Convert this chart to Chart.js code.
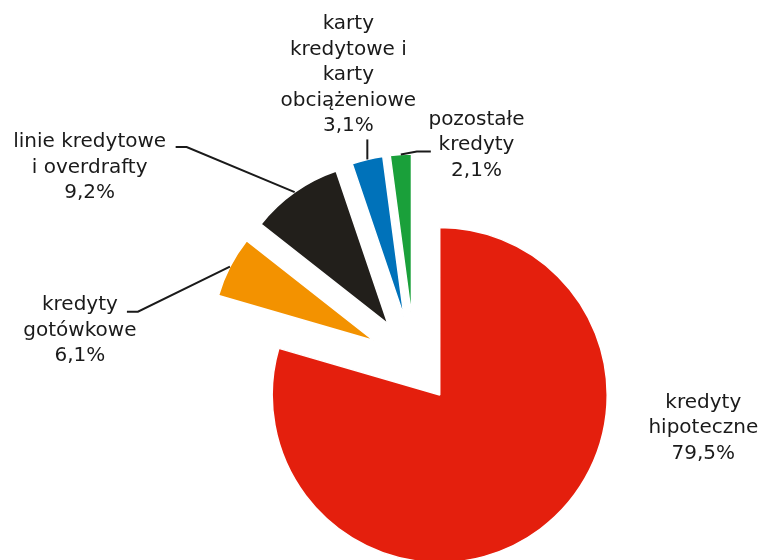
<!DOCTYPE html>
<html lang="pl">
<head>
<meta charset="utf-8">
<title>Struktura kredytów</title>
<script src="https://cdn.jsdelivr.net/npm/chart.js@4/dist/chart.umd.min.js"></script>
<style>
  html, body { margin: 0; padding: 0; background: #ffffff; }
  canvas { display: block; }
</style>
</head>
<body>
<canvas id="chart" width="763" height="560"></canvas>
<script>
// Category names (one entry per text line) and their shares in percent
const categories = [
  ['kredyty', 'hipoteczne'],
  ['kredyty', 'gotówkowe'],
  ['linie kredytowe', 'i overdrafty'],
  ['karty', 'kredytowe i', 'karty', 'obciążeniowe'],
  ['pozostałe', 'kredyty']
];
const shares = [79.5, 6.1, 9.2, 3.1, 2.1];

// Slice styling
const sliceColors = ['#E41F0D', '#F39200', '#221F1B', '#0072BA', '#1AA03A'];
const explodeBy = [42, 46, 46, 46, 46];   // outward shift of each slice, px
const radiusTrim = [0, 6, 6, 6, 6];       // small slices are drawn a bit smaller

// Label layout relative to the slice's outer mid point: text block centre and leader polyline
const labelLayout = [
  { text: [163, -101], leader: [] },
  { text: [-150, 64], leader: [[0, 0], [-92, 45], [-103, 45]] },
  { text: [-205, -24.5], leader: [[0, 0], [-108, -45], [-119, -45]] },
  { text: [-19, -84.3], leader: [[0, 0], [0, -20]] },
  { text: [75.7, -9.5], leader: [[0, 0], [16, -3], [30, -3]] }
];

const fmtPct = v => v.toFixed(1).replace('.', ',') + '%';

// Pulls each slice out along its bisector
const explodePlugin = {
  id: 'explodeSlices',
  afterDatasetUpdate(chart, args) {
    args.meta.data.forEach((arc, i) => {
      const mid = (arc.startAngle + arc.endAngle) / 2;
      arc.x += Math.cos(mid) * explodeBy[i];
      arc.y += Math.sin(mid) * explodeBy[i];
      arc.outerRadius -= radiusTrim[i];
    });
  }
};

// Category + percentage labels with leader lines
const sliceLabels = {
  id: 'sliceLabels',
  afterDraw(chart) {
    const ctx = chart.ctx;
    const meta = chart.getDatasetMeta(0);
    const lineH = 25.5;
    ctx.save();
    ctx.font = '20px "DejaVu Sans", Verdana, sans-serif';
    ctx.fillStyle = '#1a1a1a';
    ctx.strokeStyle = '#1a1a1a';
    ctx.lineWidth = 2;
    ctx.textAlign = 'center';
    ctx.textBaseline = 'middle';
    meta.data.forEach((arc, i) => {
      const mid = (arc.startAngle + arc.endAngle) / 2;
      const ax = arc.x + Math.cos(mid) * arc.outerRadius;
      const ay = arc.y + Math.sin(mid) * arc.outerRadius;
      const spec = labelLayout[i];
      if (spec.leader.length) {
        ctx.beginPath();
        spec.leader.forEach(([dx, dy], k) => {
          if (k === 0) ctx.moveTo(ax + dx, ay + dy);
          else ctx.lineTo(ax + dx, ay + dy);
        });
        ctx.stroke();
      }
      const lines = categories[i].concat([fmtPct(shares[i])]);
      const cx = ax + spec.text[0];
      const cy = ay + spec.text[1];
      const top = cy - (lines.length - 1) * lineH / 2;
      lines.forEach((t, k) => ctx.fillText(t, cx, top + k * lineH));
    });
    ctx.restore();
  }
};

new Chart(document.getElementById('chart'), {
  type: 'pie',
  data: {
    labels: categories.map(c => c.join(' ')),
    datasets: [{
      data: shares,
      backgroundColor: sliceColors,
      borderColor: '#ffffff',
      borderWidth: 1.5,
      radius: 167.5
    }]
  },
  options: {
    responsive: false,
    animation: false,
    events: [],
    layout: { padding: { left: 66, top: 163, right: 0, bottom: 0 } },
    plugins: {
      legend: { display: false },
      tooltip: { enabled: false }
    }
  },
  plugins: [explodePlugin, sliceLabels]
});
</script>
</body>
</html>
